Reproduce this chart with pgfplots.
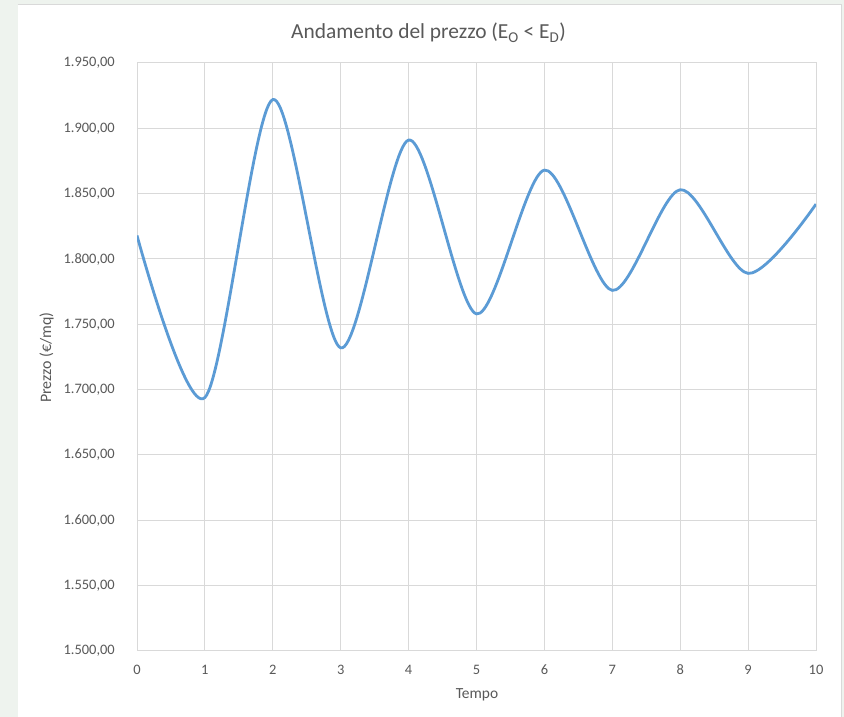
\documentclass[border=0pt]{standalone}
\usepackage{pgfplots}
\pgfplotsset{compat=1.18}
\usepackage{fontspec}
\setmainfont{Carlito}
\definecolor{bgout}{RGB}{238,243,238}
\definecolor{gridc}{RGB}{217,217,217}
\definecolor{txt}{RGB}{89,89,89}
\definecolor{serie}{RGB}{91,155,213}
\begin{document}
\begin{tikzpicture}[x=1bp,y=1bp]
\useasboundingbox (0,0) rectangle (844,717);
\fill[bgout] (0,0) rectangle (844,717);
\fill[white] (17.5,0) rectangle (841,712.5);
\draw[gridc, line width=1bp] (17.5,712.5) -- (841,712.5) -- (841,0);
\begin{axis}[
  at={(137bp,66bp)}, anchor=south west,
  scale only axis, width=679bp, height=588bp,
  xmin=0, xmax=10, ymin=1500, ymax=1950,
  xtick={0,1,...,10}, ytick={1500,1550,...,1950},
  grid=major,
  major grid style={gridc, line width=1bp},
  axis line style={gridc, line width=1bp},
  major tick length=0pt,
  /pgf/number format/assume math mode=true,
  tick label style={font=\fontsize{14.5}{17}\selectfont, text=txt},
  yticklabel style={anchor=east, inner sep=0pt, xshift=-22bp},
  xticklabel style={anchor=base, inner sep=0pt, yshift=-24bp},
  yticklabel={\pgfmathprintnumber[fixed,fixed zerofill,precision=2,use comma,1000 sep={.},assume math mode=true]{\tick}},
]
\addplot[serie, line width=2.8bp, smooth, tension=0.5] coordinates {
  (0,1818) (1,1694) (2,1922) (3,1732) (4,1891) (5,1758)
  (6,1868) (7,1776) (8,1853) (9,1789) (10,1842)
};
\end{axis}
\node[anchor=base, font=\fontsize{21.5}{25}\selectfont, text=txt, inner sep=0pt] at (428.5,678) {Andamento del prezzo (E\textsubscript{O} < E\textsubscript{D})};
\node[anchor=base, font=\fontsize{15.5}{19}\selectfont, text=txt, inner sep=0pt] at (477,18) {Tempo};
\node[anchor=base, rotate=90, font=\fontsize{16}{19}\selectfont, text=txt, inner sep=0pt] at (51,359.5) {Prezzo (€/mq)};
\end{tikzpicture}
\end{document}
